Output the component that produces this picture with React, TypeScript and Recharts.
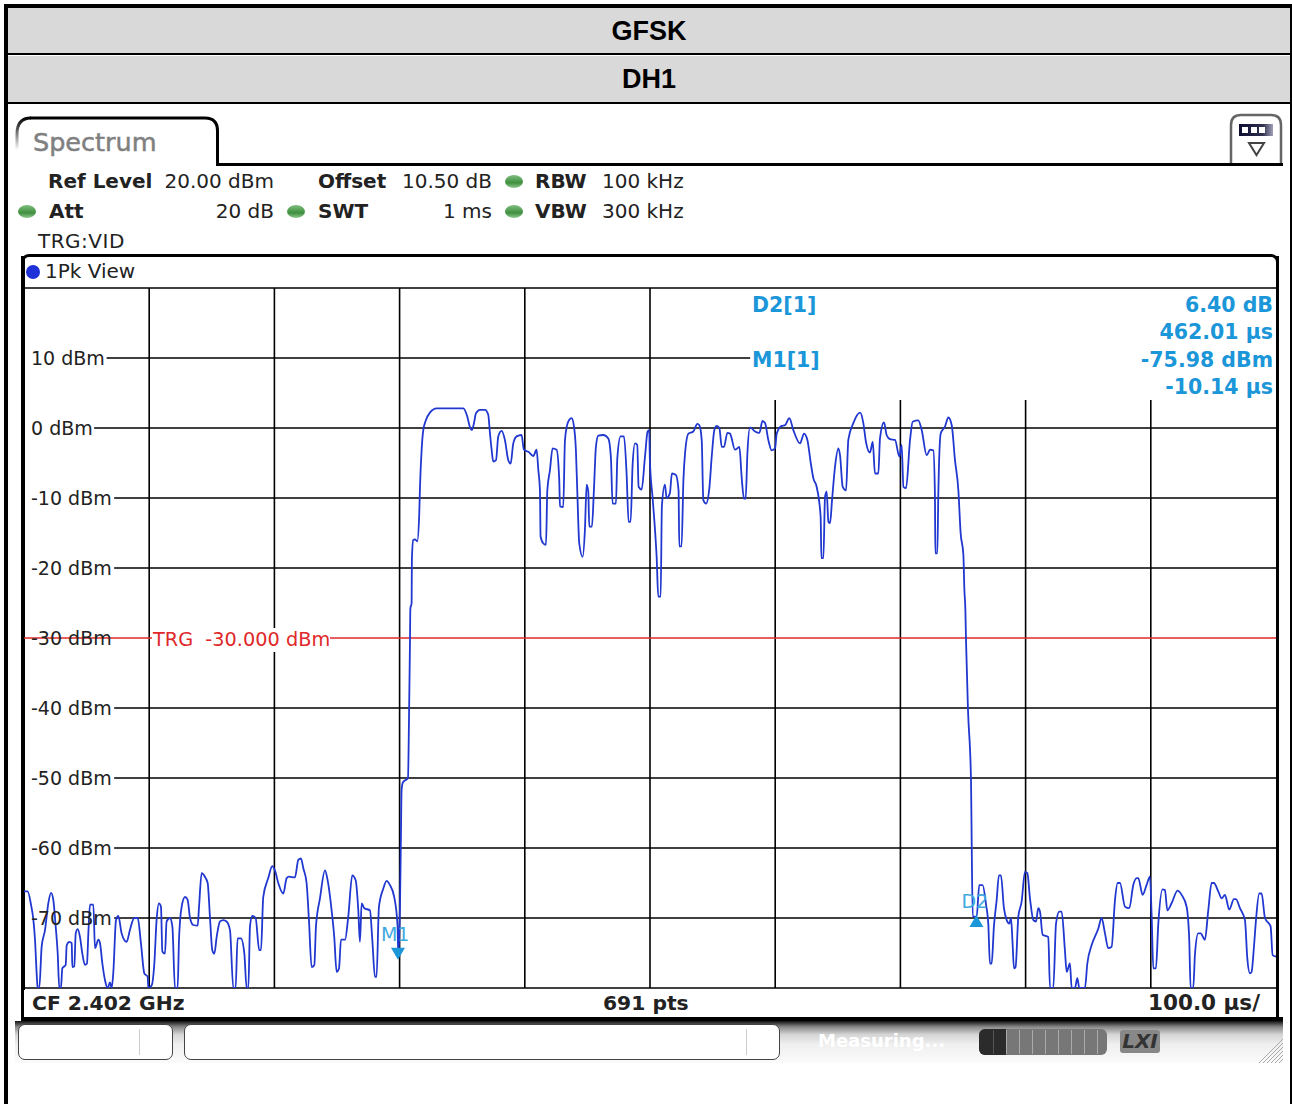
import { Line, LineChart, ReferenceDot, ReferenceLine, XAxis, YAxis } from "recharts";

// sweep readings as [time in us, level in dBm]
const noiseBefore: [number, number][] = [
  [0, -66.2], [2.9, -66.2], [5.6, -68.1], [7.5, -70.3], [8.8, -73.1], [10.1, -77.9], [10.9, -80], [12.2, -80], [14.1, -74.1], [16.8, -71.7],
  [19.4, -67.9], [21.6, -66.4], [23.4, -67.4], [25.3, -71.2], [26.9, -75], [28.2, -80], [29.5, -80], [30.6, -77.2], [33.3, -76.7], [34.1, -73.9],
  [36.2, -73.4], [38.1, -73.6], [38.6, -77], [40.2, -76.9], [41.3, -72.2], [42.9, -71.6], [44.7, -72.7], [46.6, -75.1], [48.7, -76.7], [50.3, -76.5],
  [51.4, -72.2], [52.7, -68.1], [55.4, -68.1], [56.7, -74.3], [59.4, -73.1], [60.7, -73.6], [62.6, -76.5], [64.7, -78.9], [66.8, -80], [68.7, -79.2],
  [70, -80], [71.3, -77.9], [73.5, -70.3], [75.3, -69.7], [78, -72.2], [82, -73.4], [84.6, -71.7], [88.1, -70], [90.8, -70], [93.4, -73.6],
  [96.1, -77.9], [98.8, -78.4], [99.3, -80], [102, -79.6], [104.1, -76.5], [105.9, -70.3], [107.8, -67.9], [109.4, -68.4], [110.5, -74.8], [112.6, -75.1],
  [113.9, -70.5], [116.6, -70], [118.5, -71.2], [120.6, -80], [122.7, -80], [123.8, -73.1], [125.9, -68.4], [128.6, -67], [130.7, -67.4], [132.6, -70],
  [135.2, -71], [138.7, -71.1], [139.8, -68.4], [141.9, -63.6], [144.5, -64.1], [146.7, -65], [148.5, -69.8], [150.4, -74.6], [152, -75.1], [153.9, -72.7],
  [156.5, -70.5], [159.2, -70.3], [161.8, -70.5], [164.5, -71.7], [167.2, -80], [169, -80], [170.6, -72.9], [173.3, -72.9], [176, -75.1], [177.8, -80],
  [179.2, -80], [180.5, -71.2], [182.3, -69.7], [185, -70], [187.9, -74.6], [189.3, -74.6], [191.1, -67], [195.1, -64.3], [198.3, -62.6], [200.4, -63.2],
  [203.1, -65], [207.1, -66.5], [209.8, -64.3], [211.6, -64.1], [216.4, -64.2], [219.1, -61.7], [221.2, -61.5], [223.1, -62.9], [225.7, -65], [227.6, -70.3],
  [229.7, -77], [231.9, -76.7], [233.2, -71.2], [236.4, -67.2], [240.4, -63.2], [242.5, -64.6], [245.7, -68.9], [247.8, -72.7], [249.7, -77.7], [251.6, -77.2],
  [253.2, -73.1], [256.4, -73.1], [259, -69.8], [262.2, -63.9], [264.9, -64.6], [267, -68.9], [268.3, -73.4], [269.7, -67.9], [271.8, -68.6], [276.3, -68.9],
  [278.2, -73.1], [280.3, -78.4], [281.6, -78.4], [283.5, -68.4], [287, -65.8], [289.6, -64.7], [292.3, -65.3], [295.7, -67], [298.4, -71.2], [298.9, -75.3],
];

const burst: [number, number][] = [
  [300.3, -68.4], [301, -59.3], [301.6, -51.7], [302.7, -50.6], [306.7, -50], [307.5, -41.7], [308.3, -30.3], [308.6, -25.8], [309.6, -25], [309.8, -18.9],
  [310.9, -16], [312.3, -15.9], [314.1, -16.2], [315.7, -12.2], [316.3, -8.4], [317.6, -3.1], [318.9, -0.3], [321, 1.1], [324.2, 2.2], [329.6, 2.8],
  [350.9, 2.8], [354.1, 1.6], [356.2, 0.1], [357.8, -0.3], [359.4, 0.7], [361, 2.1], [364.2, 2.6], [368.2, 2.6], [370.8, 1.9], [372.2, -0.8],
  [373.5, -3.1], [374.8, -4.8], [377, -4.6], [378.8, -1.2], [381.5, -0.4], [384.1, -1.7], [386.8, -4.6], [388.7, -5.1], [390.8, -2.2], [393.5, -1.2],
  [397.4, -1], [399.3, -3.1], [402.8, -3.4], [406.8, -4], [409.4, -3.1], [410.8, -6], [412.1, -8.9], [412.6, -15.5], [414.8, -16.5], [416.9, -16.7],
  [418, -8.9], [420.1, -6], [422.2, -2.9], [425.4, -3.1], [427.5, -7.4], [428.1, -11.2], [430.7, -11.3], [432.1, -1.7], [434.7, 0.9], [437.4, 1.4],
  [439.3, 0.2], [440.8, -3.1], [441.9, -8.9], [443.5, -16.5], [446.2, -18.4], [448, -14.6], [449.4, -8.1], [450.7, -9.1], [451.5, -14.1], [453.6, -14.1],
  [455.2, -8.9], [456.8, -2.7], [458.7, -1.1], [462.7, -1], [466.7, -1.5], [468.8, -4.3], [470.1, -10.8], [472.8, -10.8], [473.9, -4.3], [476.5, -1.2],
  [479.2, -1.2], [481.3, -6.5], [482.9, -13.4], [484.5, -13.4], [486.1, -5.3], [488, -2.2], [489.8, -2.4], [490.9, -8.4], [493.3, -8.8], [496, -4.1],
  [498.1, -0.5], [499.4, -0.3], [499.9, -4.6], [502.1, -10], [503.9, -14.3], [505.3, -18.4], [506.6, -24.1], [508.5, -24.1], [509.5, -11.2], [511.9, -8.1],
  [513.3, -10], [515.9, -9.3], [517.5, -6.5], [520.7, -6.7], [522.8, -8.9], [523.4, -16.9], [525.2, -16.9], [526.7, -7.4], [528, -3.6], [530.7, -0.8],
  [534.6, -0.5], [537.8, 0.6], [539.4, 0.4], [541.3, -1.7], [542.6, -10.3], [544.8, -10.8], [547.4, -8.6], [549.3, -4.1], [551.4, -0.3], [553.3, 0.3],
  [555.4, 0], [557.3, -2.7], [559.1, -2.7], [561.8, -0.7], [563.9, -0.8], [567.9, -3.1], [571.4, -2.7], [573.2, -7], [575.1, -10.1], [576.4, -10.1],
  [577.8, -3.6], [579.9, 0.1], [583.9, -0.5], [587.4, -0.7], [589.8, 1], [591.9, 0.7], [594.5, -1.7], [597.2, -3.2], [599.9, -2.9], [601.2, -0.8],
  [605.2, 0.3], [607.9, 0.4], [611.3, 1.4], [614.5, -0.3], [619.8, -2.2], [623, -0.8], [625.7, -1.7], [628.4, -5], [630.5, -7.2], [633.1, -8.4],
  [636.3, -12.7], [636.9, -18.6], [638.5, -18.6], [639.8, -9.8], [641.1, -9.1], [642.5, -13.4], [643.8, -13.6], [645.4, -10.3], [647.8, -5.5], [650.4, -2.9],
  [651.8, -3.9], [653.9, -8.4], [656.6, -8.9], [658.4, -1.7], [662.4, 0.7], [667.8, 2.2], [670.4, 0.7], [672.5, -2], [675.7, -3.5], [677.9, -2],
  [679.7, -6.5], [682.4, -6.5], [683.7, -1.5], [686.9, 0.8], [689, -1], [691.7, -1.6], [695.7, -1.7], [699.2, -4.1], [701, -2.4], [702.4, -8.4],
  [704.5, -8.6], [707.7, -1.7], [709.8, 0.9], [714.3, 1.1], [717, -0.3], [721, -3.9], [723.7, -3.1], [726.3, -3.2], [727.6, -9.8], [727.9, -17.9],
  [729.5, -17.9], [730.3, -9.3], [732.2, -0.8], [735.6, 0.2], [738.3, 1.5], [741, 0.4], [743.6, -4.6], [746.3, -8.9], [748.1, -15], [750.3, -18.1],
  [751.1, -23.1], [751.9, -26], [752.4, -30.3], [754, -40.3], [756.4, -50.3], [757, -60.3], [757.8, -69.8],
];

const noiseAfter: [number, number][] = [
  [760.9, -69.8], [763, -65.3], [765.7, -65.3], [768.4, -68.1], [770.2, -70.8], [771.5, -76.5], [772.9, -76.5], [774.7, -71.2], [776.9, -67.4], [778.7, -63.9],
  [780.3, -63.9], [782.7, -68.6], [784.9, -70.3], [787, -70.8], [788.3, -70], [789.6, -73.6], [790.7, -77.2], [792, -77], [794.2, -69.8], [796.8, -67.7],
  [799.5, -63.4], [801.4, -63.6], [803.5, -67.2], [806.2, -70.3], [808.3, -70.5], [810.1, -68.6], [811.5, -69.1], [813.6, -72.4], [818.1, -72.7], [819.5, -80],
  [822.1, -80], [824.3, -70.8], [826.9, -69.1], [828.8, -69.1], [831.4, -74.6], [832.8, -77.7], [835.4, -76.5], [836.8, -80], [839.4, -80], [841.3, -78.6],
  [842.9, -80], [847.4, -80], [849.3, -76.5], [852.7, -73.9], [858.1, -71.5], [860.7, -70], [863.4, -72.2], [866, -74.3], [868.7, -74.1], [871.4, -67.4],
  [873.5, -65], [875.4, -65], [879.4, -68.4], [882.8, -68.6], [886, -65.3], [888.7, -64.3], [890, -64.3], [893.5, -66.7], [896.6, -65.3], [899.3, -64.1],
  [900.7, -69.8], [902, -77.2], [904.1, -77.2], [906, -70.8], [909.4, -65.9], [911.3, -66], [913.2, -68.9], [916.6, -67.9], [921.4, -66.1], [924.6, -66.7],
  [928.6, -68.4], [930.7, -73.1], [931.8, -80], [933.9, -80], [935.3, -75.1], [937.9, -72.2], [939.8, -72.2], [943.2, -73.1], [945.9, -68.9], [948.6, -65],
  [950.4, -65], [953.9, -66.2], [956.6, -67.2], [959.2, -66.7], [962.7, -68.8], [966.4, -67.3], [968, -67.3], [971.2, -68.6], [975.2, -70.3], [977.1, -75.8],
  [979.2, -77.9], [980.5, -77.7], [982.4, -74.1], [984, -70.3], [986.6, -66.5], [988.5, -66.5], [991.2, -70], [995.7, -71.2], [997.3, -75.3], [1000, -75.5],
];

const levelTicks = [10, 0, -10, -20, -30, -40, -50, -60, -70];
const fullDivisions = [100, 200, 300, 400, 500];
const shortDivisions = [600, 700, 800, 900];
// level line runs: [level, from us, to us]
const levelLines: [number, number, number][] = [
  [20, 0, 1000], [10, 66, 580], [0, 56, 1000], [-10, 72, 1000], [-20, 72, 1000],
  [-40, 72, 1000], [-50, 72, 1000], [-60, 72, 1000], [-70, 72, 1000], [-80, 0, 1000],
];
const triggerLevel = -30;
const markerM1 = { t: 298.7, level: -75.98 };
const markerD2 = { t: 760.7, level: -69.58 };

const chartData = [...noiseBefore, ...burst, ...noiseAfter].map(([t, level]) => ({ t, level }));

const vera = "'DejaVu Sans', sans-serif";
const markerBlue = "#1b96d8";
const ink = "#222";

function Txt({ x, right, cy, size = 20, bold, color = ink, spacing = 0, children }: any) {
  const style: any = {
    position: "absolute",
    top: cy - 11,
    height: 24,
    lineHeight: "24px",
    fontFamily: vera,
    fontSize: size,
    fontWeight: bold ? 700 : 400,
    letterSpacing: spacing,
    color,
    whiteSpace: "nowrap",
  };
  if (right !== undefined) style.right = 1292 - right;
  else style.left = x;
  return <div style={style}>{children}</div>;
}

function renderLevelTick({ y, payload }: any) {
  return (
    <text x={31} y={y} dy={7} fontFamily={vera} fontSize={19} fill={ink}>
      {payload.value} dBm
    </text>
  );
}

function MarkerDown({ cx, cy }: any) {
  return (
    <g>
      <path d={`M${cx - 7} ${cy - 12}H${cx + 7}L${cx} ${cy}Z`} fill={markerBlue} />
      <text x={cx - 17} y={cy - 19} fontFamily={vera} fontSize={19} fill="#3fa9e0">M1</text>
    </g>
  );
}

function MarkerUp({ cx, cy }: any) {
  return (
    <g>
      <path d={`M${cx - 7} ${cy + 12}H${cx + 7}L${cx} ${cy}Z`} fill={markerBlue} />
      <text x={cx - 15} y={cy - 7} fontFamily={vera} fontSize={19} fill="#3fa9e0">D2</text>
    </g>
  );
}

function Box({ x, y, w, h, style }: any) {
  return <div style={{ position: "absolute", left: x, top: y, width: w, height: h, boxSizing: "border-box", ...style }} />;
}

function Led({ cx, cy }: any) {
  return (
    <Box x={cx - 9} y={cy - 6} w={18} h={13}
      style={{ borderRadius: "50%", background: "linear-gradient(#7fbf7f, #3f8f3f 60%, #8fc88f)" }} />
  );
}

function TitleRow({ top, height, text }: any) {
  return (
    <div style={{
      position: "absolute", left: 8, top, width: 1282, height, background: "#d9d9d9",
      textAlign: "center", lineHeight: `${height}px`, fontFamily: "'Liberation Sans', sans-serif",
      fontWeight: 700, fontSize: 27, color: "#000",
    }}>{text}</div>
  );
}

function StatusBar() {
  const cells = [0, 1, 2, 3, 4, 5, 6, 7, 8];
  return (
    <>
      <Box x={15} y={1021} w={1268} h={42} style={{ background: "linear-gradient(#111, #888 14%, #d4d4d4 32%, #efefef 55%, #fbfbfb 100%)" }} />
      <Box x={18} y={1024} w={155} h={36} style={{ background: "#fff", border: "1.5px solid #444", borderRadius: 7 }} />
      <Box x={139} y={1029} w={1} h={26} style={{ background: "#ccc" }} />
      <Box x={184} y={1024} w={596} h={36} style={{ background: "#fff", border: "1.5px solid #444", borderRadius: 7 }} />
      <Box x={746} y={1029} w={1} h={26} style={{ background: "#ccc" }} />
      <Txt x={818} cy={1040} size={18} bold color="#fff">Measuring...</Txt>
      <Box x={979} y={1029} w={128} h={26} style={{ background: "#777", borderRadius: 6 }} />
      <Box x={979} y={1029} w={27} h={26} style={{ background: "#2b2b2b", borderRadius: "6px 0 0 6px" }} />
      {cells.map((c) => (
        <Box key={c} x={993 + c * 13} y={1030} w={1} h={24} style={{ background: c === 0 ? "#555" : "#aaa" }} />
      ))}
      <div style={{
        position: "absolute", left: 1120, top: 1030, width: 40, height: 23, background: "#888", borderRadius: 3,
        fontFamily: vera, fontWeight: 700, fontStyle: "italic", fontSize: 20, lineHeight: "23px", textAlign: "center", color: "#333",
      }}>LXI</div>
      <svg style={{ position: "absolute", left: 1256, top: 1036 }} width={27} height={27}>
        {[4, 8, 12, 16, 20, 24].map((d) => (
          <line key={d} x1={27 - d} y1={27} x2={27} y2={27 - d} stroke="#aaa" strokeWidth={1} />
        ))}
      </svg>
    </>
  );
}

function TabHeader() {
  return (
    <svg style={{ position: "absolute", left: 0, top: 100 }} width={1292} height={70}>
      <defs>
        <linearGradient id="tabFade" x1="0" x2="0" y1="0" y2="1">
          <stop offset="0%" stopColor="#000" />
          <stop offset="100%" stopColor="#000" stopOpacity={0} />
        </linearGradient>
        <linearGradient id="iconBar" x1="0" x2="1" y1="0" y2="0">
          <stop offset="0%" stopColor="#0c0c30" />
          <stop offset="70%" stopColor="#30304f" />
          <stop offset="100%" stopColor="#a0a0b8" />
        </linearGradient>
      </defs>
      <path d="M17 50V34Q17 18 31 18" fill="none" stroke="url(#tabFade)" strokeWidth={3} />
      <path d="M30 18H205Q217.500 18 217.500 31V64.500H1283" fill="none" stroke="#000" strokeWidth={3} />
      <path d="M1231 64V25Q1231 15 1241 15H1271Q1281 15 1281 25V64" fill="#fff" stroke="#666" strokeWidth={2.5} />
      <path d="M1229 64.500H1283" stroke="#000" strokeWidth={3} />
      <rect x={1239} y={24} width={34} height={12} fill="url(#iconBar)" />
      <rect x={1242} y={27} width={6} height={6} fill="#fff" />
      <rect x={1251} y={27} width={6} height={6} fill="#fff" />
      <rect x={1259} y={27} width={6} height={6} fill="#fff" />
      <path d="M1249 43H1264L1256.500 55Z" fill="#fff" stroke="#444" strokeWidth={2} />
    </svg>
  );
}

export default function App() {
  return (
    <div style={{ position: "absolute", left: 0, top: 0, width: 1292, height: 1104, background: "#fff", overflow: "hidden" }}>
      <Box x={4} y={4} w={1288} h={1100} style={{ borderLeft: "4px solid #000", borderTop: "4px solid #000", borderRight: "2px solid #000" }} />
      <TitleRow top={8} height={46} text="GFSK" />
      <Box x={8} y={53} w={1282} h={2} style={{ background: "#000" }} />
      <TitleRow top={56} height={46} text="DH1" />
      <Box x={8} y={102} w={1282} h={2} style={{ background: "#000" }} />

      <TabHeader />
      <div style={{ WebkitTextStroke: "0.5px #808080" }}>
        <Txt x={33} cy={141} size={25.500} color="#808080">Spectrum</Txt>
      </div>

      <Txt x={48} cy={180} bold>Ref Level</Txt>
      <Txt right={274} cy={180}>20.00 dBm</Txt>
      <Txt x={318} cy={180} bold>Offset</Txt>
      <Txt right={492} cy={180}>10.50 dB</Txt>
      <Led cx={514} cy={181} />
      <Txt x={535} cy={180} bold>RBW</Txt>
      <Txt x={602} cy={180}>100 kHz</Txt>
      <Led cx={27} cy={211} />
      <Txt x={49} cy={210} bold>Att</Txt>
      <Txt right={274} cy={210}>20 dB</Txt>
      <Led cx={296} cy={211} />
      <Txt x={318} cy={210} bold>SWT</Txt>
      <Txt right={492} cy={210}>1 ms</Txt>
      <Led cx={514} cy={211} />
      <Txt x={535} cy={210} bold>VBW</Txt>
      <Txt x={602} cy={210}>300 kHz</Txt>
      <Txt x={38} cy={240} spacing={0.5}>TRG:VID</Txt>

      <Box x={21} y={254} w={1258} h={768}
        style={{ border: "3px solid #000", borderBottomWidth: 5, borderRadius: "8px 8px 4px 4px" }} />
      <Box x={21} y={1017} w={1262} h={5} style={{ background: "#000" }} />
      <Box x={21} y={256} w={4} h={734} style={{ background: "#000" }} />
      <Box x={1276} y={256} w={3} h={734} style={{ background: "#000" }} />
      <Box x={26} y={265} w={14} h={14} style={{ borderRadius: "50%", background: "#1e30d8" }} />
      <Txt x={45} cy={270}>1Pk View</Txt>

      <div style={{ position: "absolute", left: 0, top: 0 }}>
        <LineChart width={1292} height={1104} data={chartData} margin={{ top: 288, left: 23, right: 16, bottom: 116 }}>
          <XAxis type="number" dataKey="t" domain={[0, 1000]} hide allowDataOverflow />
          <YAxis type="number" domain={[-80, 20]} ticks={levelTicks} width={1} axisLine={false} tickLine={false} tick={renderLevelTick} interval={0} allowDataOverflow />
          {levelLines.map(([level, from, to]) => (
            <ReferenceLine key={level} segment={[{ x: from, y: level }, { x: to, y: level }]} stroke="#000" strokeWidth={1.6} />
          ))}
          {fullDivisions.map((t) => (
            <ReferenceLine key={t} x={t} stroke="#000" strokeWidth={1.6} />
          ))}
          {shortDivisions.map((t) => (
            <ReferenceLine key={t} segment={[{ x: t, y: 4 }, { x: t, y: -80 }]} stroke="#000" strokeWidth={1.6} />
          ))}
          <ReferenceLine y={triggerLevel} stroke="#e0282a" strokeWidth={1.3} />
          <Line type="monotoneX" dataKey="level" stroke="#2038d0" strokeWidth={1.8} dot={false} isAnimationActive={false} />
          <ReferenceDot x={markerM1.t} y={markerM1.level} shape={<MarkerDown />} />
          <ReferenceDot x={markerD2.t} y={markerD2.level} shape={<MarkerUp />} />
        </LineChart>
      </div>

      <div style={{ position: "absolute", left: 152, top: 628, width: 178, height: 24, background: "#fff" }} />
      <Txt x={153} cy={639} color="#e0282a" size={19.300}>TRG&nbsp; -30.000 dBm</Txt>

      <Txt x={752} cy={304} bold color={markerBlue} size={20.500}>D2[1]</Txt>
      <Txt x={752} cy={359} bold color={markerBlue} size={20.500}>M1[1]</Txt>
      <Txt right={1273} cy={304} bold color={markerBlue} size={20.500}>6.40 dB</Txt>
      <Txt right={1273} cy={331} bold color={markerBlue} size={20.500}>462.01 µs</Txt>
      <Txt right={1273} cy={359} bold color={markerBlue} size={20.500}>-75.98 dBm</Txt>
      <Txt right={1273} cy={386} bold color={markerBlue} size={20.500}>-10.14 µs</Txt>

      <Txt x={32} cy={1002} bold size={20.300}>CF 2.402 GHz</Txt>
      <Txt x={603} cy={1002} bold size={20.300}>691 pts</Txt>
      <Txt right={1260} cy={1002} bold size={21.500}>100.0 µs/</Txt>

      <StatusBar />
    </div>
  );
}
